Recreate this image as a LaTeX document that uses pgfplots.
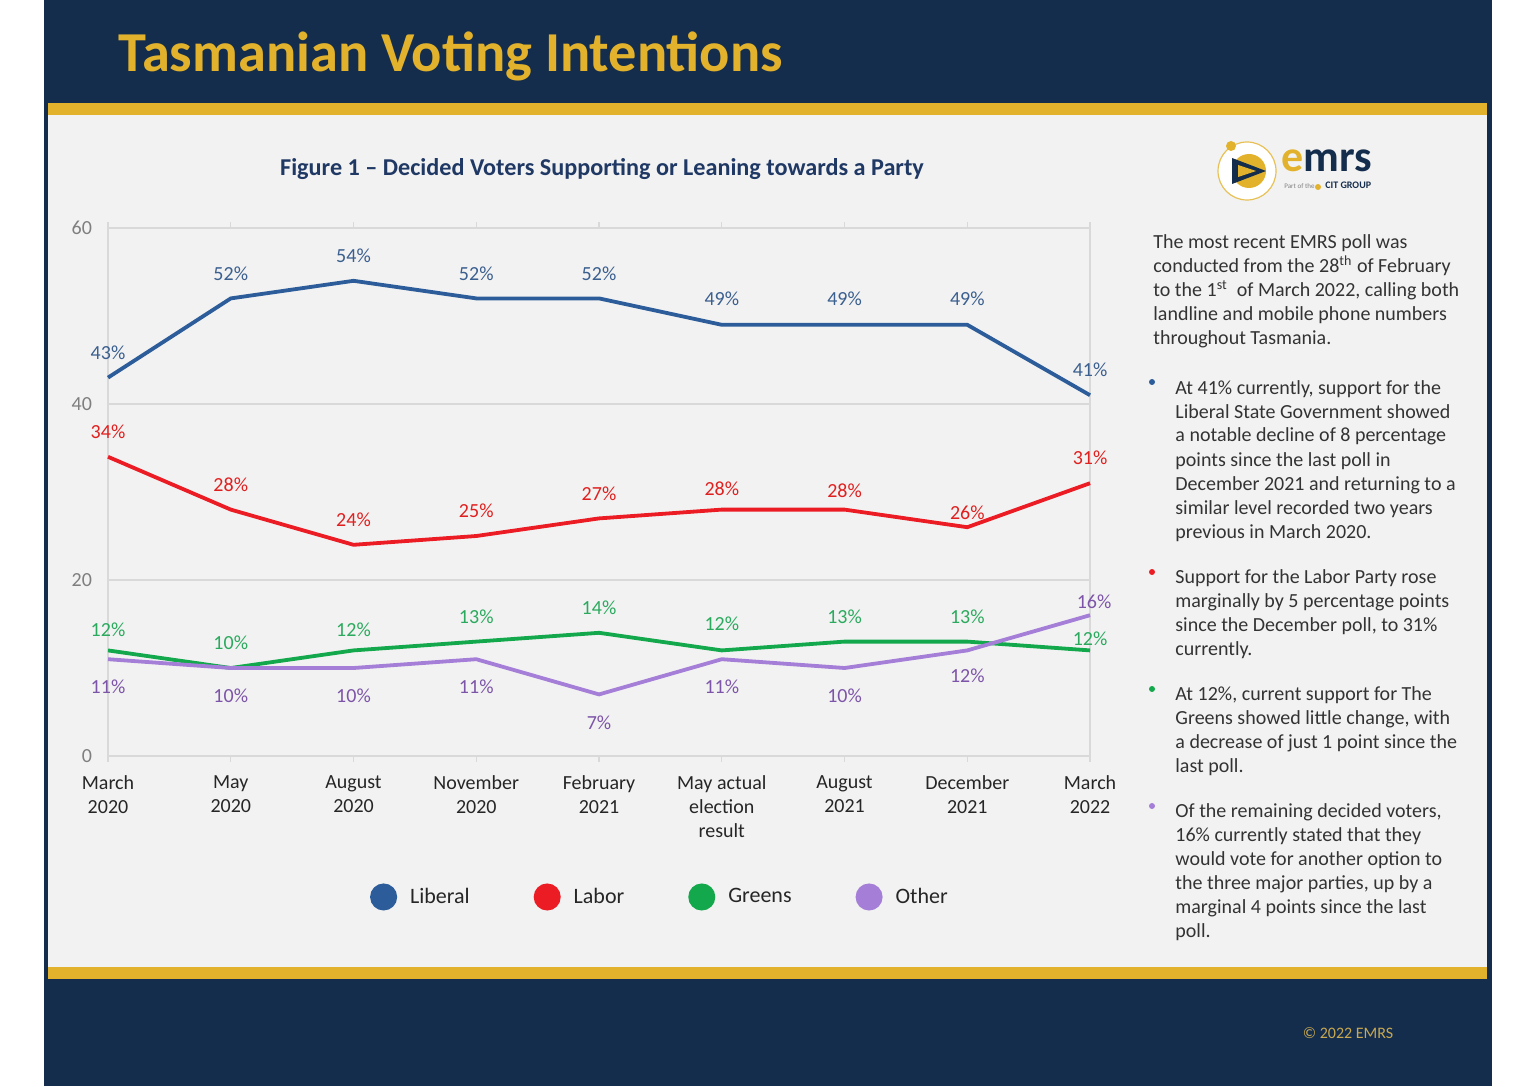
\documentclass[border=0pt]{standalone}
\usepackage{fontspec}
\setmainfont{Carlito}
\usepackage{pgfplots}
\usepackage{pgfplotstable}
\pgfplotsset{compat=1.18}

\definecolor{navy}{HTML}{152D4C}
\definecolor{gold}{HTML}{E2B22C}
\definecolor{panel}{HTML}{F2F2F2}
\definecolor{axgray}{HTML}{D9D9D9}
\definecolor{ticgray}{HTML}{7F7F7F}
\definecolor{darktxt}{HTML}{262626}
\definecolor{bodytxt}{HTML}{333333}
\definecolor{figtitle}{HTML}{1F3864}
\definecolor{libLine}{HTML}{2C5C99}
\definecolor{libLab}{HTML}{3B5F8F}
\definecolor{labLine}{HTML}{EC1C24}
\definecolor{labLab}{HTML}{E0201F}
\definecolor{grnLine}{HTML}{12A84B}
\definecolor{grnLab}{HTML}{2BAA5E}
\definecolor{othLine}{HTML}{A57ED8}
\definecolor{othLab}{HTML}{7D55A8}
\definecolor{copy}{HTML}{C8A850}

% columns: x (category index), y (percent), dx/dy (label offset in px)
\pgfplotstableread{
x y dx dy
0 43 0 25
1 52 0 25
2 54 0 25
3 52 0 25
4 52 0 25
5 49 0 26
6 49 0 26
7 49 0 26
8 41 0 25
}\liberal
\pgfplotstableread{
x y dx dy
0 34 0 25
1 28 0 25
2 24 0 25
3 25 0 25
4 27 0 25
5 28 0 21
6 28 0 19
7 26 0 14
8 31 0 25
}\labor
\pgfplotstableread{
x y dx dy
0 12 0 21
1 10 0 25
2 12 0 21
3 13 0 25
4 14 0 25
5 12 0 27
6 13 0 25
7 13 0 25
8 12 0 12
}\greens
\pgfplotstableread{
x y dx dy
0 11 0 -28
1 10 0 -28
2 10 0 -28
3 11 0 -28
4 7 0 -28
5 11 0 -28
6 10 0 -28
7 12 0 -25
8 16 4 13
}\other

\newcommand{\bodyfont}{\fontsize{10bp}{12bp}\selectfont}

\begin{document}
\begin{tikzpicture}[x=0.5bp,y=0.5bp]
% background
\fill[white] (0,0) rectangle (1536,1086);
\fill[navy] (44,0) rectangle (1492,1086);
\fill[panel] (48,119) rectangle (1487,971);
\fill[gold] (48,971) rectangle (1487,983);
\fill[gold] (48,107) rectangle (1487,119);

% main title
\node[anchor=base west, inner sep=0pt, text=gold, font=\fontsize{28.2bp}{32bp}\selectfont\bfseries] at (118,1014) {Tasmanian Voting Intentions};

% figure title
\node[anchor=base, inner sep=0pt, text=figtitle, font=\fontsize{12.1bp}{14bp}\selectfont\bfseries] at (602,910) {Figure 1 -- Decided Voters Supporting or Leaning towards a Party};

% logo
\fill[white] (1247,915) circle (29);
\draw[gold!80, line width=0.6bp] (1247,915) circle (29);
\fill[gold] (1231,940) circle (5);
\fill[gold] (1249,915) circle (17);
\fill[navy] (1232,928) -- (1266,915) -- (1232,902) -- cycle;
\fill[gold] (1238,921) -- (1256,915) -- (1238,909) -- cycle;
\node[anchor=base west, inner sep=0pt, font=\fontsize{22bp}{24bp}\selectfont\bfseries] at (1281,914) {\textcolor{gold}{e}\textcolor{navy}{mrs}};
\node[anchor=base west, inner sep=0pt, text=gray, font=\fontsize{3.5bp}{4bp}\selectfont] at (1284,897) {Part of the};
\fill[gold] (1318,899) circle (3);
\node[anchor=base west, inner sep=0pt, text=navy, font=\fontsize{5bp}{6bp}\selectfont\bfseries] at (1325,897) {CIT GROUP};

% right-hand text
\begin{scope}[every node/.style={anchor=base west, inner sep=0pt, text=bodytxt, font=\bodyfont}]
\node at (1153,837) {The most recent EMRS poll was};
\node at (1153,813) {conducted from the 28\textsuperscript{th} of February};
\node at (1153,789) {to the 1\textsuperscript{st}\ \ of March 2022, calling both};
\node at (1153,765) {landline and mobile phone numbers};
\node at (1153,741) {throughout Tasmania.};

\node at (1175,692) {At 41\% currently, support for the};
\node at (1175,668) {Liberal State Government showed};
\node at (1175,644) {a notable decline of 8 percentage};
\node at (1175,620) {points since the last poll in};
\node at (1175,596) {December 2021 and returning to a};
\node at (1175,572) {similar level recorded two years};
\node at (1175,548) {previous in March 2020.};

\node at (1175,503) {Support for the Labor Party rose};
\node at (1175,479) {marginally by 5 percentage points};
\node at (1175,455) {since the December poll, to 31\%};
\node at (1175,431) {currently.};

\node at (1175,386) {At 12\%, current support for The};
\node at (1175,362) {Greens showed little change, with};
\node at (1175,338) {a decrease of just 1 point since the};
\node at (1175,314) {last poll.};

\node at (1175,269) {Of the remaining decided voters,};
\node at (1175,245) {16\% currently stated that they};
\node at (1175,221) {would vote for another option to};
\node at (1175,197) {the three major parties, up by a};
\node at (1175,173) {marginal 4 points since the last};
\node at (1175,149) {poll.};
\end{scope}
\fill[libLine] (1152,704) circle (3);
\fill[labLine] (1152,514) circle (3);
\fill[grnLine] (1152,397) circle (3);
\fill[othLine] (1152,280) circle (3);

% copyright
\node[anchor=base, inner sep=0pt, text=copy, font=\fontsize{8bp}{9bp}\selectfont] at (1348,48) {© 2022 EMRS};

\begin{axis}[
  at={(88,375)}, anchor=south west,
  scale only axis, width=491bp, height=264bp,
  xmin=0, xmax=8, ymin=0, ymax=60,
  clip=false,
  xtick={0,...,8},
  xticklabels={{March\\2020},{May\\2020},{August\\2020},{November\\2020},{February\\2021},{May actual\\election\\result},{August\\2021},{December\\2021},{March\\2022}},
  ytick={0,20,40,60},
  axis line style={draw=axgray, line width=0.7bp},
  ymajorgrids, grid style={draw=axgray, line width=0.7bp},
  tick align=outside, major tick length=3bp,
  xtick style={draw=axgray, line width=0.7bp},
  ytick style={draw=none},
  xticklabel style={align=center, text=darktxt, font=\fontsize{10bp}{12bp}\selectfont, yshift=-3.5bp},
  yticklabel style={text=ticgray, font=\fontsize{10bp}{12bp}\selectfont, xshift=-1.5bp},
  /pgf/number format/assume math mode=true,
  nodes near coords={\pgfmathprintnumber{\pgfplotspointmeta}\%},
  point meta=y,
  visualization depends on={\thisrow{dx} \as \dx},
  visualization depends on={\thisrow{dy} \as \dy},
  every node near coord/.style={anchor=center, inner sep=0pt, xshift=\dx*0.5bp, yshift=\dy*0.5bp, font=\fontsize{10bp}{12bp}\selectfont},
  legend columns=4,
  legend style={at={(0.563,-0.267)}, anchor=center, draw=none, fill=none,
    font=\fontsize{11bp}{13bp}\selectfont, text=darktxt,
    /tikz/every odd column/.append style={column sep=4.5bp},
    /tikz/every even column/.append style={column sep=30bp}},
  legend image code/.code={\fill[#1] (3bp,0) circle (5.8bp);},
]
\addplot[libLine, line width=1.9bp, mark=none, every node near coord/.append style={text=libLab}] table[x=x,y=y] {\liberal};
\addlegendentry{Liberal}
\addplot[labLine, line width=1.9bp, mark=none, every node near coord/.append style={text=labLab}] table[x=x,y=y] {\labor};
\addlegendentry{Labor}
\addplot[grnLine, line width=1.9bp, mark=none, every node near coord/.append style={text=grnLab}] table[x=x,y=y] {\greens};
\addlegendentry{Greens}
\addplot[othLine, line width=1.9bp, mark=none, every node near coord/.append style={text=othLab}] table[x=x,y=y] {\other};
\addlegendentry{Other}
\end{axis}
\end{tikzpicture}
\end{document}
